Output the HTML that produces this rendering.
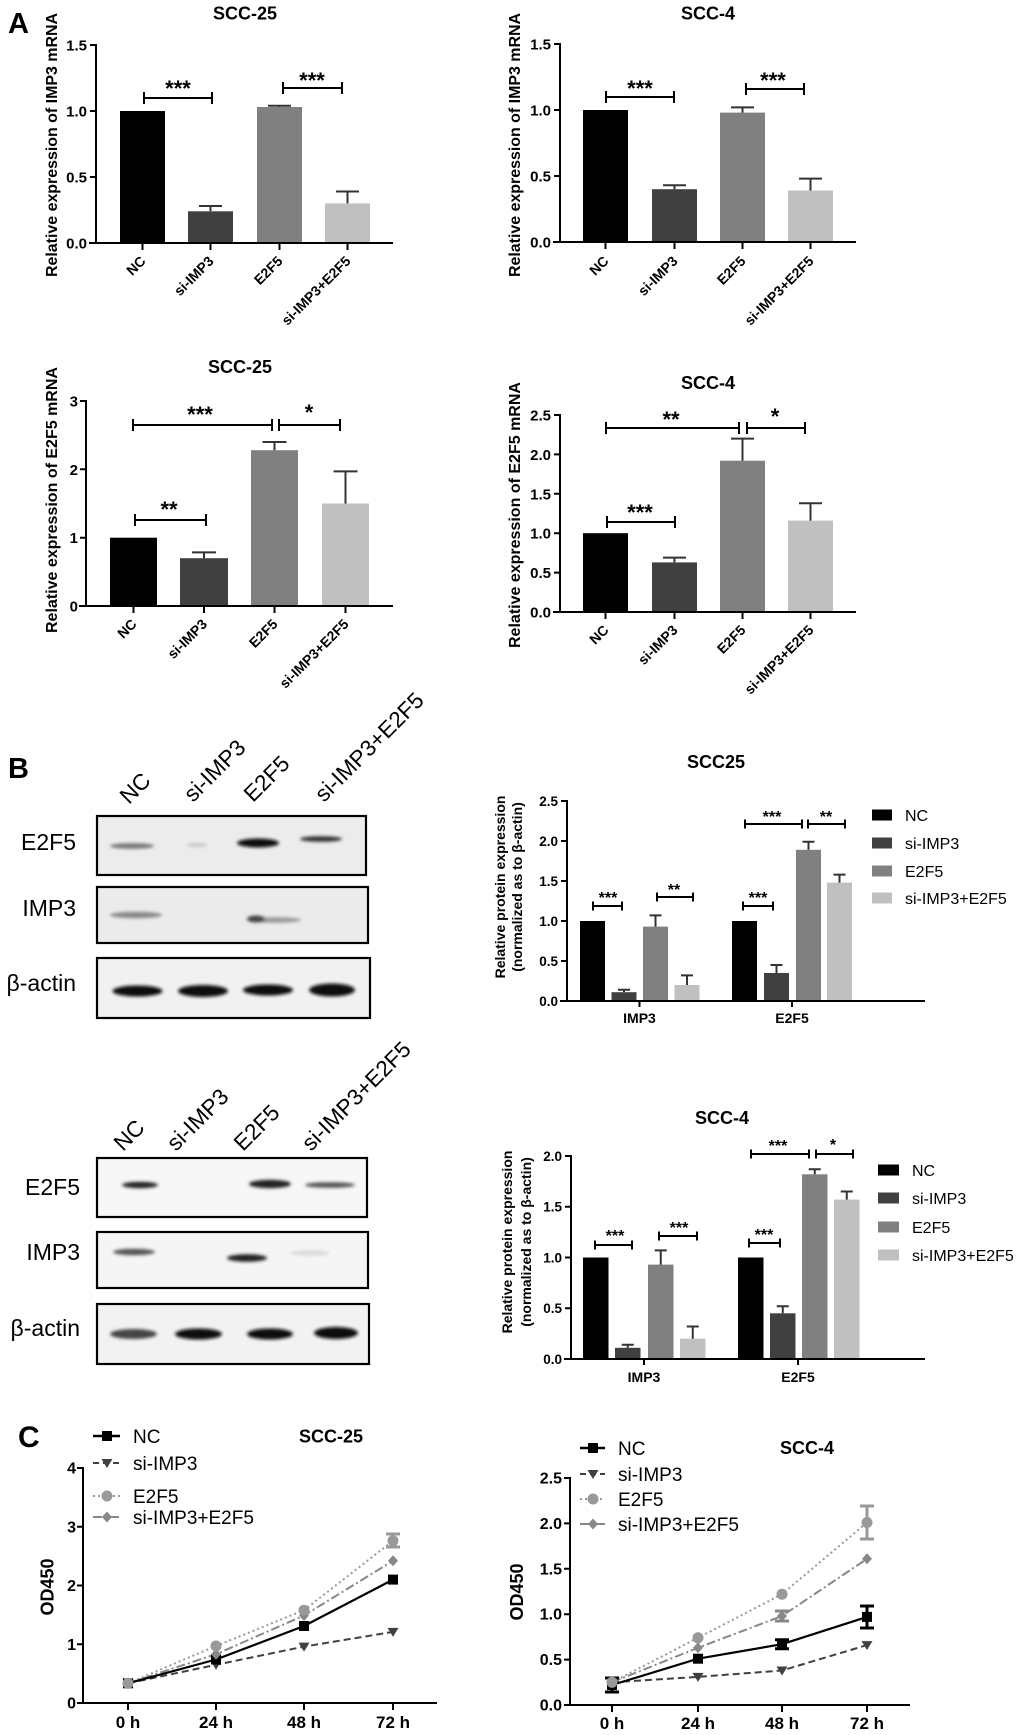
<!DOCTYPE html>
<html><head><meta charset="utf-8">
<style>
html,body{margin:0;padding:0;background:#fff;}
svg{display:block;font-family:"Liberation Sans",Arial,sans-serif;}
.b{font-weight:bold;}
</style></head><body>
<svg width="1020" height="1735" viewBox="0 0 1020 1735" xmlns="http://www.w3.org/2000/svg">
<defs>
<filter id="f1" x="-50%" y="-300%" width="200%" height="700%"><feGaussianBlur stdDeviation="1.5"/></filter>
<filter id="f2" x="-50%" y="-300%" width="200%" height="700%"><feGaussianBlur stdDeviation="2.5"/></filter>
</defs>

<!-- ================= PANEL A ================= -->
<text x="8" y="33" font-size="29" class="b">A</text>

<!-- A1 -->
<text x="245" y="19.5" font-size="18" class="b" text-anchor="middle">SCC-25</text>
<text transform="translate(57,145) rotate(-90)" font-size="16" class="b" text-anchor="middle" textLength="264" lengthAdjust="spacingAndGlyphs">Relative expression of IMP3 mRNA</text>
<g font-size="15" class="b" text-anchor="end">
<text x="87" y="50.5">1.5</text><text x="87" y="116.5">1.0</text><text x="87" y="182.5">0.5</text><text x="87" y="248.5">0.0</text>
</g>
<rect x="120" y="111" width="45" height="132" fill="#000"/>
<rect x="188" y="211.3" width="45" height="31.7" fill="#404040"/>
<rect x="257" y="107" width="45" height="136" fill="#808080"/>
<rect x="325" y="203.4" width="45" height="39.6" fill="#c0c0c0"/>
<g stroke="#000" stroke-width="2" fill="none">
<path d="M96,44 V243 M90,45 H96 M90,111 H96 M90,177 H96 M89,243 H393 M142.5,243 V250 M210.5,243 V250 M279.5,243 V250 M347.5,243 V250"/>
<path d="M144,92 V104 M144,98 H212 M212,92 V104 M283,82 V94 M283,88 H342 M342,82 V94"/>
</g>
<g stroke="#333" stroke-width="2" fill="none">
<path d="M210.5,211.3 V206 M199,206 H222 M279.5,107 V105.7 M268,105.7 H291 M347.5,203.4 V191.5 M336,191.5 H359"/>
</g>
<g font-size="22" class="b" text-anchor="middle"><text x="178" y="96">***</text><text x="312" y="88">***</text></g>
<g font-size="14" class="b" text-anchor="end">
<text transform="translate(146.5,262) rotate(-45)">NC</text>
<text transform="translate(214.5,262) rotate(-45)">si-IMP3</text>
<text transform="translate(283.5,262) rotate(-45)">E2F5</text>
<text transform="translate(351.5,262) rotate(-45)">si-IMP3+E2F5</text>
</g>

<!-- A2 -->
<text x="708" y="19.5" font-size="18" class="b" text-anchor="middle">SCC-4</text>
<text transform="translate(520,145) rotate(-90)" font-size="16" class="b" text-anchor="middle" textLength="264" lengthAdjust="spacingAndGlyphs">Relative expression of IMP3 mRNA</text>
<g font-size="15" class="b" text-anchor="end">
<text x="551" y="49.5">1.5</text><text x="551" y="115.5">1.0</text><text x="551" y="181.5">0.5</text><text x="551" y="247.5">0.0</text>
</g>
<rect x="583" y="110" width="45" height="132" fill="#000"/>
<rect x="652" y="189.2" width="45" height="52.8" fill="#404040"/>
<rect x="720" y="112.6" width="45" height="129.4" fill="#808080"/>
<rect x="788" y="190.5" width="45" height="51.5" fill="#c0c0c0"/>
<g stroke="#000" stroke-width="2" fill="none">
<path d="M560,43 V242 M554,44 H560 M554,110 H560 M554,176 H560 M553,242 H856 M605.5,242 V249 M674.5,242 V249 M742.5,242 V249 M810.5,242 V249"/>
<path d="M606,91 V103 M606,97 H674 M674,91 V103 M746,83 V95 M746,89 H804 M804,83 V95"/>
</g>
<g stroke="#333" stroke-width="2" fill="none">
<path d="M674.5,189.2 V185.2 M663,185.2 H686 M742.5,112.6 V107.4 M731,107.4 H754 M810.5,190.5 V178.6 M799,178.6 H822"/>
</g>
<g font-size="22" class="b" text-anchor="middle"><text x="640" y="96">***</text><text x="773" y="88">***</text></g>
<g font-size="14" class="b" text-anchor="end">
<text transform="translate(609.5,262) rotate(-45)">NC</text>
<text transform="translate(678.5,262) rotate(-45)">si-IMP3</text>
<text transform="translate(746.5,262) rotate(-45)">E2F5</text>
<text transform="translate(814.5,262) rotate(-45)">si-IMP3+E2F5</text>
</g>

<!-- B1 (E2F5 mRNA SCC-25) -->
<text x="240" y="373" font-size="18" class="b" text-anchor="middle">SCC-25</text>
<text transform="translate(57,500) rotate(-90)" font-size="16" class="b" text-anchor="middle" textLength="266" lengthAdjust="spacingAndGlyphs">Relative expression of E2F5 mRNA</text>
<g font-size="15" class="b" text-anchor="end">
<text x="78" y="406.5">3</text><text x="78" y="474.8">2</text><text x="78" y="543.2">1</text><text x="78" y="611.5">0</text>
</g>
<rect x="110" y="537.7" width="47" height="68.3" fill="#000"/>
<rect x="180" y="558.2" width="48" height="47.8" fill="#404040"/>
<rect x="251" y="450.2" width="47" height="155.8" fill="#808080"/>
<rect x="322" y="503.5" width="47" height="102.5" fill="#c0c0c0"/>
<g stroke="#000" stroke-width="2" fill="none">
<path d="M86,400 V606 M80,401 H86 M80,469.3 H86 M80,537.7 H86 M79,606 H393 M133.5,606 V613 M204,606 V613 M274.5,606 V613 M345.5,606 V613"/>
<path d="M133,419 V431 M133,425 H272 M272,419 V431 M279,419 V431 M279,425 H340 M340,419 V431 M135,514 V526 M135,520 H206 M206,514 V526"/>
</g>
<g stroke="#333" stroke-width="2" fill="none">
<path d="M204,558.2 V552.4 M192,552.4 H216 M274.5,450.2 V442 M262.5,442 H286.5 M345.5,503.5 V471.4 M333.5,471.4 H357.5"/>
</g>
<g font-size="22" class="b" text-anchor="middle"><text x="200" y="422">***</text><text x="309" y="420">*</text><text x="169" y="517">**</text></g>
<g font-size="14" class="b" text-anchor="end">
<text transform="translate(137.5,625) rotate(-45)">NC</text>
<text transform="translate(208,625) rotate(-45)">si-IMP3</text>
<text transform="translate(278.5,625) rotate(-45)">E2F5</text>
<text transform="translate(349.5,625) rotate(-45)">si-IMP3+E2F5</text>
</g>

<!-- B2 (E2F5 mRNA SCC-4) -->
<text x="708" y="389" font-size="18" class="b" text-anchor="middle">SCC-4</text>
<text transform="translate(520,515) rotate(-90)" font-size="16" class="b" text-anchor="middle" textLength="266" lengthAdjust="spacingAndGlyphs">Relative expression of E2F5 mRNA</text>
<g font-size="15" class="b" text-anchor="end">
<text x="551" y="420.5">2.5</text><text x="551" y="459.9">2.0</text><text x="551" y="499.3">1.5</text><text x="551" y="538.7">1.0</text><text x="551" y="578.1">0.5</text><text x="551" y="617.5">0.0</text>
</g>
<rect x="583" y="533.2" width="45" height="78.8" fill="#000"/>
<rect x="652" y="562.4" width="45" height="49.6" fill="#404040"/>
<rect x="720" y="460.7" width="45" height="151.3" fill="#808080"/>
<rect x="788" y="520.6" width="45" height="91.4" fill="#c0c0c0"/>
<g stroke="#000" stroke-width="2" fill="none">
<path d="M560,414 V612 M554,415 H560 M554,454.4 H560 M554,493.8 H560 M554,533.2 H560 M554,572.6 H560 M553,612 H856 M605.5,612 V619 M674.5,612 V619 M742.5,612 V619 M810.5,612 V619"/>
<path d="M606,422 V434 M606,428 H739 M739,422 V434 M747,422 V434 M747,428 H805 M805,422 V434 M607,516 V528 M607,522 H675 M675,516 V528"/>
</g>
<g stroke="#333" stroke-width="2" fill="none">
<path d="M674.5,562.4 V557.6 M663,557.6 H686 M742.5,460.7 V438.6 M731,438.6 H754 M810.5,520.6 V503.3 M799,503.3 H822"/>
</g>
<g font-size="22" class="b" text-anchor="middle"><text x="671" y="427">**</text><text x="775" y="424">*</text><text x="640" y="520">***</text></g>
<g font-size="14" class="b" text-anchor="end">
<text transform="translate(609.5,631) rotate(-45)">NC</text>
<text transform="translate(678.5,631) rotate(-45)">si-IMP3</text>
<text transform="translate(746.5,631) rotate(-45)">E2F5</text>
<text transform="translate(814.5,631) rotate(-45)">si-IMP3+E2F5</text>
</g>

<!-- ================= PANEL B ================= -->
<text x="8" y="778" font-size="29" class="b">B</text>

<!-- blot 1 column labels -->
<g font-size="22.5">
<text transform="translate(129,805) rotate(-45)">NC</text>
<text transform="translate(193,803) rotate(-45)">si-IMP3</text>
<text transform="translate(253,803) rotate(-45)">E2F5</text>
<text transform="translate(324,803) rotate(-45)">si-IMP3+E2F5</text>
</g>
<!-- blot 1 rows -->
<g font-size="23" text-anchor="end">
<text x="76" y="850">E2F5</text><text x="76" y="916">IMP3</text><text x="76" y="991">β-actin</text>
</g>
<rect x="97" y="816" width="269" height="59" fill="#ececec" stroke="#000" stroke-width="2.2"/>
<rect x="97" y="887" width="271" height="56" fill="#ebebeb" stroke="#000" stroke-width="2.2"/>
<rect x="97" y="958" width="273" height="60" fill="#f1f1f1" stroke="#000" stroke-width="2.2"/>
<g filter="url(#f1)">
<ellipse cx="132" cy="846" rx="22" ry="2.8" fill="#777"/>
<ellipse cx="197" cy="845" rx="10" ry="2" fill="#c8c8c8"/>
<ellipse cx="258" cy="843" rx="21" ry="4.5" fill="#111"/>
<ellipse cx="321" cy="839" rx="21" ry="2.8" fill="#333"/>
<ellipse cx="136" cy="915" rx="26" ry="3.2" fill="#888"/>
<ellipse cx="274" cy="920" rx="27" ry="2.8" fill="#999"/>
<ellipse cx="256" cy="919" rx="9" ry="3.5" fill="#444"/>
<ellipse cx="137.5" cy="991" rx="25" ry="5.5" fill="#111"/>
<ellipse cx="203" cy="991" rx="25" ry="6" fill="#111"/>
<ellipse cx="268" cy="990" rx="25" ry="5.5" fill="#111"/>
<ellipse cx="332" cy="990" rx="23" ry="6.5" fill="#111"/>
</g>

<!-- blot 2 column labels -->
<g font-size="22.5">
<text transform="translate(123,1152) rotate(-45)">NC</text>
<text transform="translate(176,1152) rotate(-45)">si-IMP3</text>
<text transform="translate(243,1152) rotate(-45)">E2F5</text>
<text transform="translate(311,1152) rotate(-45)">si-IMP3+E2F5</text>
</g>
<g font-size="23" text-anchor="end">
<text x="80" y="1195">E2F5</text><text x="80" y="1260">IMP3</text><text x="80" y="1336">β-actin</text>
</g>
<rect x="97" y="1158" width="270" height="59" fill="#f7f7f7" stroke="#000" stroke-width="2.2"/>
<rect x="97" y="1232" width="271" height="56" fill="#f5f5f5" stroke="#000" stroke-width="2.2"/>
<rect x="97" y="1304" width="272" height="60" fill="#f2f2f2" stroke="#000" stroke-width="2.2"/>
<g filter="url(#f1)">
<ellipse cx="140" cy="1185" rx="18" ry="3.2" fill="#222"/>
<ellipse cx="270" cy="1184" rx="21" ry="4.2" fill="#222"/>
<ellipse cx="330" cy="1185" rx="25" ry="2.8" fill="#555"/>
<ellipse cx="134" cy="1252" rx="21" ry="3.2" fill="#555"/>
<ellipse cx="247" cy="1258" rx="20" ry="3.8" fill="#222"/>
<ellipse cx="310" cy="1253" rx="20" ry="3" fill="#ddd"/>
<ellipse cx="133.5" cy="1334" rx="23.5" ry="5" fill="#444"/>
<ellipse cx="198.5" cy="1334" rx="23.5" ry="5.5" fill="#111"/>
<ellipse cx="270" cy="1334" rx="23" ry="5.5" fill="#111"/>
<ellipse cx="336" cy="1333" rx="22" ry="6" fill="#111"/>
</g>

<!-- Protein chart SCC25 -->
<text x="716" y="768" font-size="18" class="b" text-anchor="middle">SCC25</text>
<g font-size="14" class="b" text-anchor="middle">
<text transform="translate(505,887) rotate(-90)">Relative protein expression</text>
<text transform="translate(522,887) rotate(-90)">(normalized as to β-actin)</text>
</g>
<g font-size="13.5" class="b" text-anchor="end">
<text x="558" y="806">2.5</text><text x="558" y="846">2.0</text><text x="558" y="886">1.5</text><text x="558" y="926">1.0</text><text x="558" y="966">0.5</text><text x="558" y="1006">0.0</text>
</g>
<rect x="580" y="921" width="25" height="80" fill="#000"/>
<rect x="611.5" y="992.2" width="25" height="8.8" fill="#404040"/>
<rect x="643" y="926.6" width="25" height="74.4" fill="#808080"/>
<rect x="674.5" y="985" width="25" height="16" fill="#c0c0c0"/>
<rect x="732" y="921" width="25" height="80" fill="#000"/>
<rect x="764" y="973" width="25" height="28" fill="#404040"/>
<rect x="796" y="849.8" width="25" height="151.2" fill="#808080"/>
<rect x="827" y="882.6" width="25" height="118.4" fill="#c0c0c0"/>
<g stroke="#000" stroke-width="2" fill="none">
<path d="M567,800 V1001 M561,801 H567 M561,841 H567 M561,881 H567 M561,921 H567 M561,961 H567 M560,1001 H925 M639.5,1001 V1007 M792,1001 V1007"/>
<path d="M593,901.5 V910.5 M593,906 H622 M622,901.5 V910.5 M657,892.5 V901.5 M657,897 H693 M693,892.5 V901.5 M743,901.5 V910.5 M743,906 H773 M773,901.5 V910.5 M745,819.5 V828.5 M745,824 H802 M802,819.5 V828.5 M808,819.5 V828.5 M808,824 H845 M845,819.5 V828.5"/>
</g>
<g stroke="#333" stroke-width="2" fill="none">
<path d="M624,992.2 V989.8 M618,989.8 H630 M655.5,926.6 V915.4 M649.5,915.4 H661.5 M687,985 V975.4 M681,975.4 H693 M776.5,973 V965 M770.5,965 H782.5 M808.5,849.8 V841.8 M802.5,841.8 H814.5 M839.5,882.6 V874.6 M833.5,874.6 H845.5"/>
</g>
<g font-size="16" class="b" text-anchor="middle">
<text x="608" y="903">***</text><text x="674" y="895">**</text><text x="758" y="903">***</text><text x="772" y="822">***</text><text x="826" y="822">**</text>
</g>
<g font-size="14" class="b" text-anchor="middle"><text x="639.5" y="1023">IMP3</text><text x="792" y="1023">E2F5</text></g>
<rect x="872" y="809.5" width="20" height="11" fill="#000"/>
<rect x="872" y="837.5" width="20" height="11" fill="#404040"/>
<rect x="872" y="865.5" width="20" height="11" fill="#808080"/>
<rect x="872" y="892.5" width="20" height="11" fill="#c0c0c0"/>
<g font-size="16">
<text x="905" y="821">NC</text><text x="905" y="849">si-IMP3</text><text x="905" y="877">E2F5</text><text x="905" y="904">si-IMP3+E2F5</text>
</g>

<!-- Protein chart SCC-4 -->
<text x="722" y="1124" font-size="18" class="b" text-anchor="middle">SCC-4</text>
<g font-size="14" class="b" text-anchor="middle">
<text transform="translate(512,1242) rotate(-90)">Relative protein expression</text>
<text transform="translate(531,1242) rotate(-90)">(normalized as to β-actin)</text>
</g>
<g font-size="13.5" class="b" text-anchor="end">
<text x="562" y="1161">2.0</text><text x="562" y="1211.5">1.5</text><text x="562" y="1262.5">1.0</text><text x="562" y="1313">0.5</text><text x="562" y="1364">0.0</text>
</g>
<rect x="583" y="1257.5" width="25.5" height="101.5" fill="#000"/>
<rect x="615" y="1347.8" width="25.5" height="11.2" fill="#404040"/>
<rect x="648" y="1264.6" width="25.5" height="94.4" fill="#808080"/>
<rect x="680" y="1338.7" width="25.5" height="20.3" fill="#c0c0c0"/>
<rect x="738" y="1257.5" width="25.5" height="101.5" fill="#000"/>
<rect x="770" y="1313.3" width="25.5" height="45.7" fill="#404040"/>
<rect x="802" y="1174.3" width="25.5" height="184.7" fill="#808080"/>
<rect x="834" y="1199.6" width="25.5" height="159.4" fill="#c0c0c0"/>
<g stroke="#000" stroke-width="2" fill="none">
<path d="M571,1155 V1359 M565,1156 H571 M565,1206.75 H571 M565,1257.5 H571 M565,1308.25 H571 M564,1359 H925 M644,1359 V1365 M798,1359 V1365"/>
<path d="M595,1240.5 V1249.5 M595,1245 H632 M632,1240.5 V1249.5 M659,1231.5 V1240.5 M659,1236 H697 M697,1231.5 V1240.5 M749,1238.5 V1247.5 M749,1243 H780 M780,1238.5 V1247.5 M751,1149.5 V1158.5 M751,1154 H809 M809,1149.5 V1158.5 M816,1149.5 V1158.5 M816,1154 H853 M853,1149.5 V1158.5"/>
</g>
<g stroke="#333" stroke-width="2" fill="none">
<path d="M627.75,1347.8 V1344.8 M621.75,1344.8 H633.75 M660.75,1264.6 V1250.4 M654.75,1250.4 H666.75 M692.75,1338.7 V1326.5 M686.75,1326.5 H698.75 M782.75,1313.3 V1306.2 M776.75,1306.2 H788.75 M814.75,1174.3 V1169.2 M808.75,1169.2 H820.75 M846.75,1199.6 V1191.5 M840.75,1191.5 H852.75"/>
</g>
<g font-size="16" class="b" text-anchor="middle">
<text x="615" y="1241">***</text><text x="679" y="1233">***</text><text x="764" y="1240">***</text><text x="778" y="1151">***</text><text x="833" y="1150">*</text>
</g>
<g font-size="14" class="b" text-anchor="middle"><text x="644" y="1382">IMP3</text><text x="798" y="1382">E2F5</text></g>
<rect x="878" y="1164.5" width="21" height="11" fill="#000"/>
<rect x="878" y="1192.5" width="21" height="11" fill="#404040"/>
<rect x="878" y="1221.5" width="21" height="11" fill="#808080"/>
<rect x="878" y="1249.5" width="21" height="11" fill="#c0c0c0"/>
<g font-size="16">
<text x="912" y="1176">NC</text><text x="912" y="1204">si-IMP3</text><text x="912" y="1233">E2F5</text><text x="912" y="1261">si-IMP3+E2F5</text>
</g>

<!-- ================= PANEL C ================= -->
<text x="18" y="1447" font-size="30" class="b">C</text>

<!-- C1 -->
<text x="331" y="1442.5" font-size="18" class="b" text-anchor="middle">SCC-25</text>
<text transform="translate(53.5,1587) rotate(-90)" font-size="18" class="b" text-anchor="middle">OD450</text>
<g font-size="16" class="b" text-anchor="end">
<text x="76" y="1473.5">4</text><text x="76" y="1532.3">3</text><text x="76" y="1591">2</text><text x="76" y="1649.8">1</text><text x="76" y="1708.5">0</text>
</g>
<g stroke="#000" stroke-width="2" fill="none">
<path d="M83,1467 V1703 M77,1468 H83 M77,1526.75 H83 M77,1585.5 H83 M77,1644.25 H83 M77,1703 H437 M128,1703 V1710 M216,1703 V1710 M304,1703 V1710 M393,1703 V1710"/>
</g>
<g font-size="17" class="b" text-anchor="middle">
<text x="128" y="1728">0 h</text><text x="216" y="1728">24 h</text><text x="304" y="1728">48 h</text><text x="393" y="1728">72 h</text>
</g>
<!-- legend C1 -->
<path d="M93,1436 H120" stroke="#000" stroke-width="2.5"/>
<rect x="102" y="1431" width="10" height="10" fill="#000"/>
<path d="M93,1463 H120" stroke="#404040" stroke-width="2" stroke-dasharray="6 4"/>
<polygon points="101.5,1459 112.5,1459 107,1468" fill="#404040"/>
<path d="M93,1496 H120" stroke="#999" stroke-width="2" stroke-dasharray="2 3"/>
<circle cx="107" cy="1496" r="5.5" fill="#999"/>
<path d="M93,1517 H120" stroke="#888" stroke-width="2" stroke-dasharray="9 3 2 3"/>
<polygon points="107,1511.5 112,1517 107,1522.5 102,1517" fill="#888"/>
<g font-size="19">
<text x="133" y="1443">NC</text><text x="133" y="1470">si-IMP3</text><text x="133" y="1503">E2F5</text><text x="133" y="1524">si-IMP3+E2F5</text>
</g>
<!-- series C1 -->
<polyline points="128,1683.3 216,1646 304,1610.2 393,1540.8" fill="none" stroke="#999" stroke-width="2" stroke-dasharray="2 3"/>
<polyline points="128,1683.3 216,1654.2 304,1615.5 393,1560.8" fill="none" stroke="#888" stroke-width="2" stroke-dasharray="9 3 2 3"/>
<polyline points="128,1683.3 216,1664.8 304,1646.6 393,1631.9" fill="none" stroke="#404040" stroke-width="2" stroke-dasharray="7 4"/>
<polyline points="128,1683.3 216,1659.5 304,1626 393,1579.6" fill="none" stroke="#000" stroke-width="2.2"/>
<g fill="#404040">
<polygon points="122.5,1679.3 133.5,1679.3 128,1688.3"/><polygon points="210.5,1660.8 221.5,1660.8 216,1669.8"/><polygon points="298.5,1642.6 309.5,1642.6 304,1651.6"/><polygon points="387.5,1627.9 398.5,1627.9 393,1636.9"/>
</g>
<g fill="#000">
<rect x="123" y="1678.3" width="10" height="10"/><rect x="211" y="1654.5" width="10" height="10"/><rect x="299" y="1621" width="10" height="10"/><rect x="388" y="1574.6" width="10" height="10"/>
</g>
<g fill="#888">
<polygon points="128,1677.8 133,1683.3 128,1688.8 123,1683.3"/><polygon points="216,1648.7 221,1654.2 216,1659.7 211,1654.2"/><polygon points="304,1610 309,1615.5 304,1621 299,1615.5"/><polygon points="393,1555.3 398,1560.8 393,1566.3 388,1560.8"/>
</g>
<path d="M393,1534 V1547 M386,1534 H400 M386,1547 H400" stroke="#999" stroke-width="3" fill="none"/>
<g fill="#999">
<circle cx="128" cy="1683.3" r="5.5"/><circle cx="216" cy="1646" r="5.5"/><circle cx="304" cy="1610.2" r="5.5"/><circle cx="393" cy="1540.8" r="5.5"/>
</g>

<!-- C2 -->
<text x="807" y="1454" font-size="18" class="b" text-anchor="middle">SCC-4</text>
<text transform="translate(523,1592) rotate(-90)" font-size="18" class="b" text-anchor="middle">OD450</text>
<g font-size="16" class="b" text-anchor="end">
<text x="562" y="1483.5">2.5</text><text x="562" y="1528.9">2.0</text><text x="562" y="1574.3">1.5</text><text x="562" y="1619.7">1.0</text><text x="562" y="1665.1">0.5</text><text x="562" y="1710.5">0.0</text>
</g>
<g stroke="#000" stroke-width="2" fill="none">
<path d="M570,1477 V1705 M564,1478 H570 M564,1523.4 H570 M564,1568.8 H570 M564,1614.2 H570 M564,1659.6 H570 M564,1705 H910 M612,1705 V1712 M698,1705 V1712 M782,1705 V1712 M867,1705 V1712"/>
</g>
<g font-size="17" class="b" text-anchor="middle">
<text x="612" y="1729">0 h</text><text x="698" y="1729">24 h</text><text x="782" y="1729">48 h</text><text x="867" y="1729">72 h</text>
</g>
<!-- legend C2 -->
<path d="M580,1448 H605" stroke="#000" stroke-width="2.5"/>
<rect x="588" y="1443" width="10" height="10" fill="#000"/>
<path d="M580,1474 H605" stroke="#404040" stroke-width="2" stroke-dasharray="6 4"/>
<polygon points="587.5,1470 598.5,1470 593,1479" fill="#404040"/>
<path d="M580,1499 H605" stroke="#999" stroke-width="2" stroke-dasharray="2 3"/>
<circle cx="593" cy="1499" r="5.5" fill="#999"/>
<path d="M580,1524 H605" stroke="#888" stroke-width="2" stroke-dasharray="9 3 2 3"/>
<polygon points="593,1518.5 598,1524 593,1529.5 588,1524" fill="#888"/>
<g font-size="19">
<text x="618" y="1455">NC</text><text x="618" y="1481">si-IMP3</text><text x="618" y="1506">E2F5</text><text x="618" y="1531">si-IMP3+E2F5</text>
</g>
<!-- series C2 -->
<polyline points="612,1682.3 698,1637.8 782,1594.2 867,1522.5" fill="none" stroke="#999" stroke-width="2" stroke-dasharray="2 3"/>
<polyline points="612,1682.3 698,1647.8 782,1616 867,1558.8" fill="none" stroke="#888" stroke-width="2" stroke-dasharray="9 3 2 3"/>
<polyline points="612,1682.3 698,1676.9 782,1670.5 867,1645.1" fill="none" stroke="#404040" stroke-width="2" stroke-dasharray="7 4"/>
<polyline points="612,1685 698,1658.7 782,1644.2 867,1616.9" fill="none" stroke="#000" stroke-width="2.2"/>
<g stroke="#000" stroke-width="3" fill="none">
<path d="M782,1639.7 V1648.7 M775,1639.7 H789 M775,1648.7 H789 M867,1606 V1628 M860,1606 H874 M860,1628 H874 M612,1678 V1692 M605,1678 H619 M605,1692 H619"/>
</g>
<path d="M867,1506 V1539 M860,1506 H874 M860,1539 H874" stroke="#999" stroke-width="3" fill="none"/>
<path d="M782,1611 V1621 M775,1611 H789 M775,1621 H789" stroke="#888" stroke-width="3" fill="none"/>
<g fill="#404040">
<polygon points="606.5,1678.3 617.5,1678.3 612,1687.3"/><polygon points="692.5,1672.9 703.5,1672.9 698,1681.9"/><polygon points="776.5,1666.5 787.5,1666.5 782,1675.5"/><polygon points="861.5,1641.1 872.5,1641.1 867,1650.1"/>
</g>
<g fill="#000">
<rect x="607" y="1680" width="10" height="10"/><rect x="693" y="1653.7" width="10" height="10"/><rect x="777" y="1639.2" width="10" height="10"/><rect x="862" y="1611.9" width="10" height="10"/>
</g>
<g fill="#888">
<polygon points="612,1676.8 617,1682.3 612,1687.8 607,1682.3"/><polygon points="698,1642.3 703,1647.8 698,1653.3 693,1647.8"/><polygon points="782,1610.5 787,1616 782,1621.5 777,1616"/><polygon points="867,1553.3 872,1558.8 867,1564.3 862,1558.8"/>
</g>
<g fill="#999">
<circle cx="612" cy="1682.3" r="5.5"/><circle cx="698" cy="1637.8" r="5.5"/><circle cx="782" cy="1594.2" r="5.5"/><circle cx="867" cy="1522.5" r="5.5"/>
</g>
</svg>
</body></html>
